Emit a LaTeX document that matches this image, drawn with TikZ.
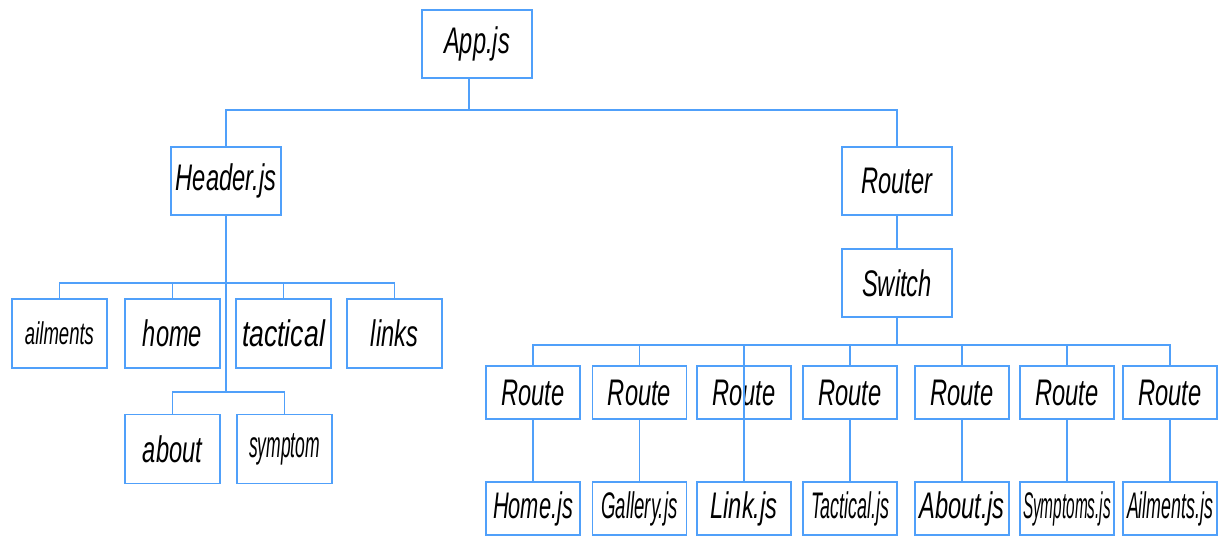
\documentclass[tikz,border=0pt]{standalone}
\usepackage{fontspec}
\usepackage{graphicx}
\setmainfont{Liberation Sans}[FakeStretch=0.64]
\definecolor{boxblue}{RGB}{80,160,250}
% squeeze a label horizontally to a given width, keeping its height
\newcommand\squeeze[2]{\resizebox{#1}{\height}{#2}}
\newcommand\shrink[2]{\resizebox{#1}{0.85\height}{#2}}
\tikzset{
  box/.style={draw=boxblue, line width=1.8pt, inner sep=0pt, anchor=center,
    font=\fontsize{37}{40}\selectfont\itshape, text=black},
  big/.style={box, minimum width=110pt, minimum height=68pt},
  mid/.style={box, minimum width=95pt, minimum height=69pt},
  rt/.style={box, minimum width=94pt, minimum height=53pt},
  link/.style={draw=boxblue, line width=1.4pt}
}
\begin{document}
\begin{tikzpicture}[x=1pt,y=-1pt]
\useasboundingbox (0,0) rectangle (1223,536);

% top levels
\node[big] (app) at (477,44) {App.js};
\node[big] (hdr) at (226,181) {Header.js};
\node[big] (rtr) at (897,181) {Router};
\node[big] (sw)  at (897,283) {Switch};

% header children
\node[mid] (ail)  at (59.5,333.5)  {\shrink{69pt}{ailments}};
\node[mid] (home) at (172.5,333.5) {home};
\node[mid] (tac)  at (283.5,333.5) {\squeeze{83pt}{tactical}};
\node[mid] (lnk)  at (394.5,333.5) {links};
\node[mid] (abt)  at (172.5,449)   {about};
\node[mid] (sym)  at (284.5,449)   {\squeeze{71pt}{symptom}};

% routes and their pages
\foreach \i/\x/\page in {1/533/{\squeeze{80pt}{Home.js}},
                         2/639.5/{\squeeze{76pt}{Gallery.js}},
                         3/744/{Link.js},
                         4/850/{\squeeze{78pt}{Tactical.js}},
                         5/962/{About.js},
                         6/1067/{\squeeze{88pt}{Symptoms.js}},
                         7/1170/{\squeeze{86pt}{Ailments.js}}}{
  \node[rt] (r\i) at (\x,392.5) {Route};
  \node[rt] (p\i) at (\x,508.5) {\page};
}

% connectors: App.js
\coordinate (busA) at (469,110);
\draw[link] (app.south -| busA) -- (busA);
\draw[link] (hdr.north) |- (busA) -| (rtr.north);

% connectors: Header.js
\coordinate (busH) at (226,283);
\coordinate (busH2) at (226,392);
\draw[link] (hdr.south) -- (busH2);
\draw[link] (ail.north) |- (busH) -| (lnk.north);
\draw[link] (home.north) -- (home.north |- busH);
\draw[link] (tac.north) -- (tac.north |- busH);
\draw[link] (abt.north) |- (busH2) -| (sym.north);

% connectors: Router / Switch
\draw[link] (rtr.south) -- (sw.north);
\coordinate (busS) at (897,345);
\draw[link] (sw.south) -- (busS);
\draw[link] (r1.north) |- (busS) -| (r7.north);
\foreach \i in {2,...,6}{
  \draw[link] (r\i.north) -- (r\i.north |- busS);
}
\foreach \i in {1,2,4,5,6,7}{
  \draw[link] (r\i.south) -- (p\i.north);
}
% this route's line runs straight through its box
\draw[link] (r3.north) -- (p3.north);
\end{tikzpicture}
\end{document}
